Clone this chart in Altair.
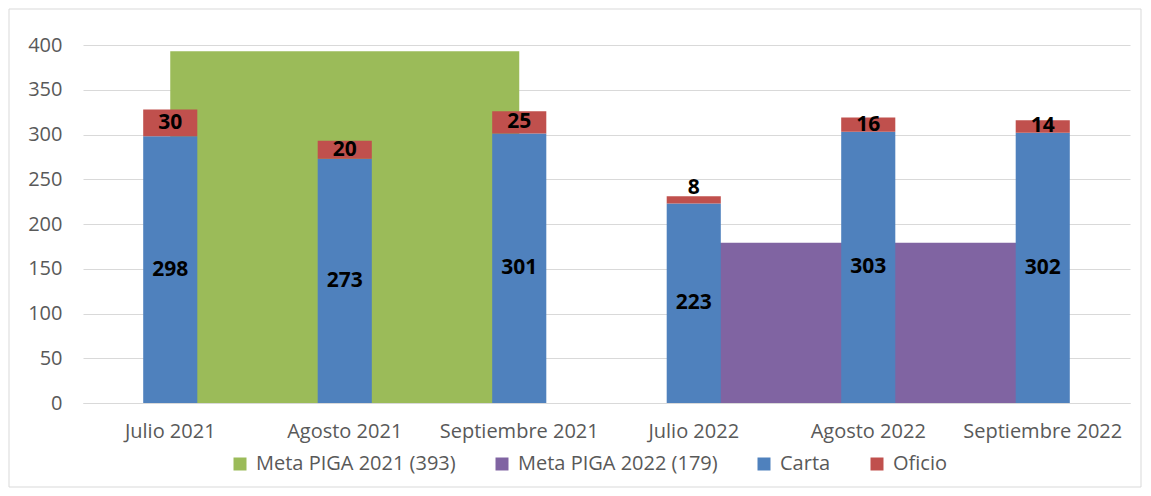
import altair as alt
import pandas as pd

months = ["Julio 2021", "Agosto 2021", "Septiembre 2021",
          "Julio 2022", "Agosto 2022", "Septiembre 2022"]
carta = [298, 273, 301, 223, 303, 302]
oficio = [30, 20, 25, 8, 16, 14]

meta_labels = ["Meta PIGA 2021 (393)", "Meta PIGA 2022 (179)"]
meta_values = [393, 179]
meta_months = [months[:3], months[3:]]

series_domain = meta_labels + ["Carta", "Oficio"]
series_colors = ["#9BBB59", "#8064A2", "#4F81BD", "#C0504D"]

FONT = "Open Sans"
GREY = "#595959"
FS = 20

area_df = pd.DataFrame(
    [{"month": m, "series": lab, "value": v}
     for lab, v, ms in zip(meta_labels, meta_values, meta_months) for m in ms]
)
bar_rows = []
for m, c, o in zip(months, carta, oficio):
    bar_rows.append({"month": m, "series": "Carta", "value": c, "ord": 0})
    bar_rows.append({"month": m, "series": "Oficio", "value": o, "ord": 1})
bar_df = pd.DataFrame(bar_rows)
wide_df = pd.DataFrame({"month": months, "carta": carta, "oficio": oficio})

x_enc = alt.X(
    "month:N", sort=months,
    scale=alt.Scale(paddingInner=0.69, paddingOuter=0.345),
    axis=alt.Axis(title=None, labelAngle=0, labelFontSize=FS, labelColor=GREY,
                  labelFont=FONT, labelPadding=18, ticks=False, labelLimit=0,
                  domainColor="#D9D9D9", domainWidth=1, grid=False),
)
y_axis = alt.Axis(title=None, values=list(range(0, 401, 50)), labelFontSize=FS,
                  labelColor=GREY, labelFont=FONT, labelPadding=21, ticks=False,
                  domain=False, grid=True, gridColor="#D9D9D9", gridWidth=1)
y_scale = alt.Scale(domain=[0, 400], nice=False)

color_enc = alt.Color(
    "series:N",
    scale=alt.Scale(domain=series_domain, range=series_colors),
    legend=alt.Legend(title=None, orient="none", legendX=147, legendY=409,
                      direction="horizontal", symbolType="square", symbolSize=169,
                      symbolStrokeWidth=0, labelFontSize=FS, labelColor=GREY,
                      labelFont=FONT, labelOffset=6, columnPadding=36, labelLimit=0),
)

border = alt.Chart(pd.DataFrame({"k": [0]})).mark_rect(
    fill="transparent", stroke="#D9D9D9", strokeWidth=1
).encode(x=alt.value(-74), x2=alt.value(1058), y=alt.value(-36), y2=alt.value(442))

area = alt.Chart(area_df).mark_area(opacity=1).encode(
    x=x_enc,
    y=alt.Y("value:Q", stack=None, scale=y_scale, axis=y_axis),
    color=color_enc,
    detail="series:N",
)

bars = alt.Chart(bar_df).mark_bar().encode(
    x=x_enc,
    y=alt.Y("value:Q", stack="zero", scale=y_scale, axis=y_axis),
    color=color_enc,
    order=alt.Order("ord:Q"),
)

txt_style = dict(fontWeight="bold", fontSize=21, color="black", font=FONT)

t_carta = alt.Chart(wide_df).transform_calculate(
    ypos="datum.carta / 2"
).mark_text(**txt_style).encode(
    x=x_enc, y=alt.Y("ypos:Q", scale=y_scale, axis=y_axis), text="carta:Q"
)

t_of_big = alt.Chart(wide_df).transform_filter("datum.oficio >= 10").transform_calculate(
    ypos="datum.carta + datum.oficio / 2"
).mark_text(**txt_style).encode(
    x=x_enc, y=alt.Y("ypos:Q", scale=y_scale, axis=y_axis), text="oficio:Q"
)

t_of_small = alt.Chart(wide_df).transform_filter("datum.oficio < 10").transform_calculate(
    ypos="datum.carta + datum.oficio"
).mark_text(baseline="bottom", dy=2, **txt_style).encode(
    x=x_enc, y=alt.Y("ypos:Q", scale=y_scale, axis=y_axis), text="oficio:Q"
)

chart = alt.layer(border, area, bars, t_carta, t_of_big, t_of_small).properties(
    width=1047, height=358,
    padding={"left": 75, "top": 37, "right": 13, "bottom": 85},
    autosize=alt.AutoSizeParams(type="none"),
    background="white",
).configure_view(stroke=None)

chart.save("out.html", embed_options={"renderer": "svg", "actions": False})
